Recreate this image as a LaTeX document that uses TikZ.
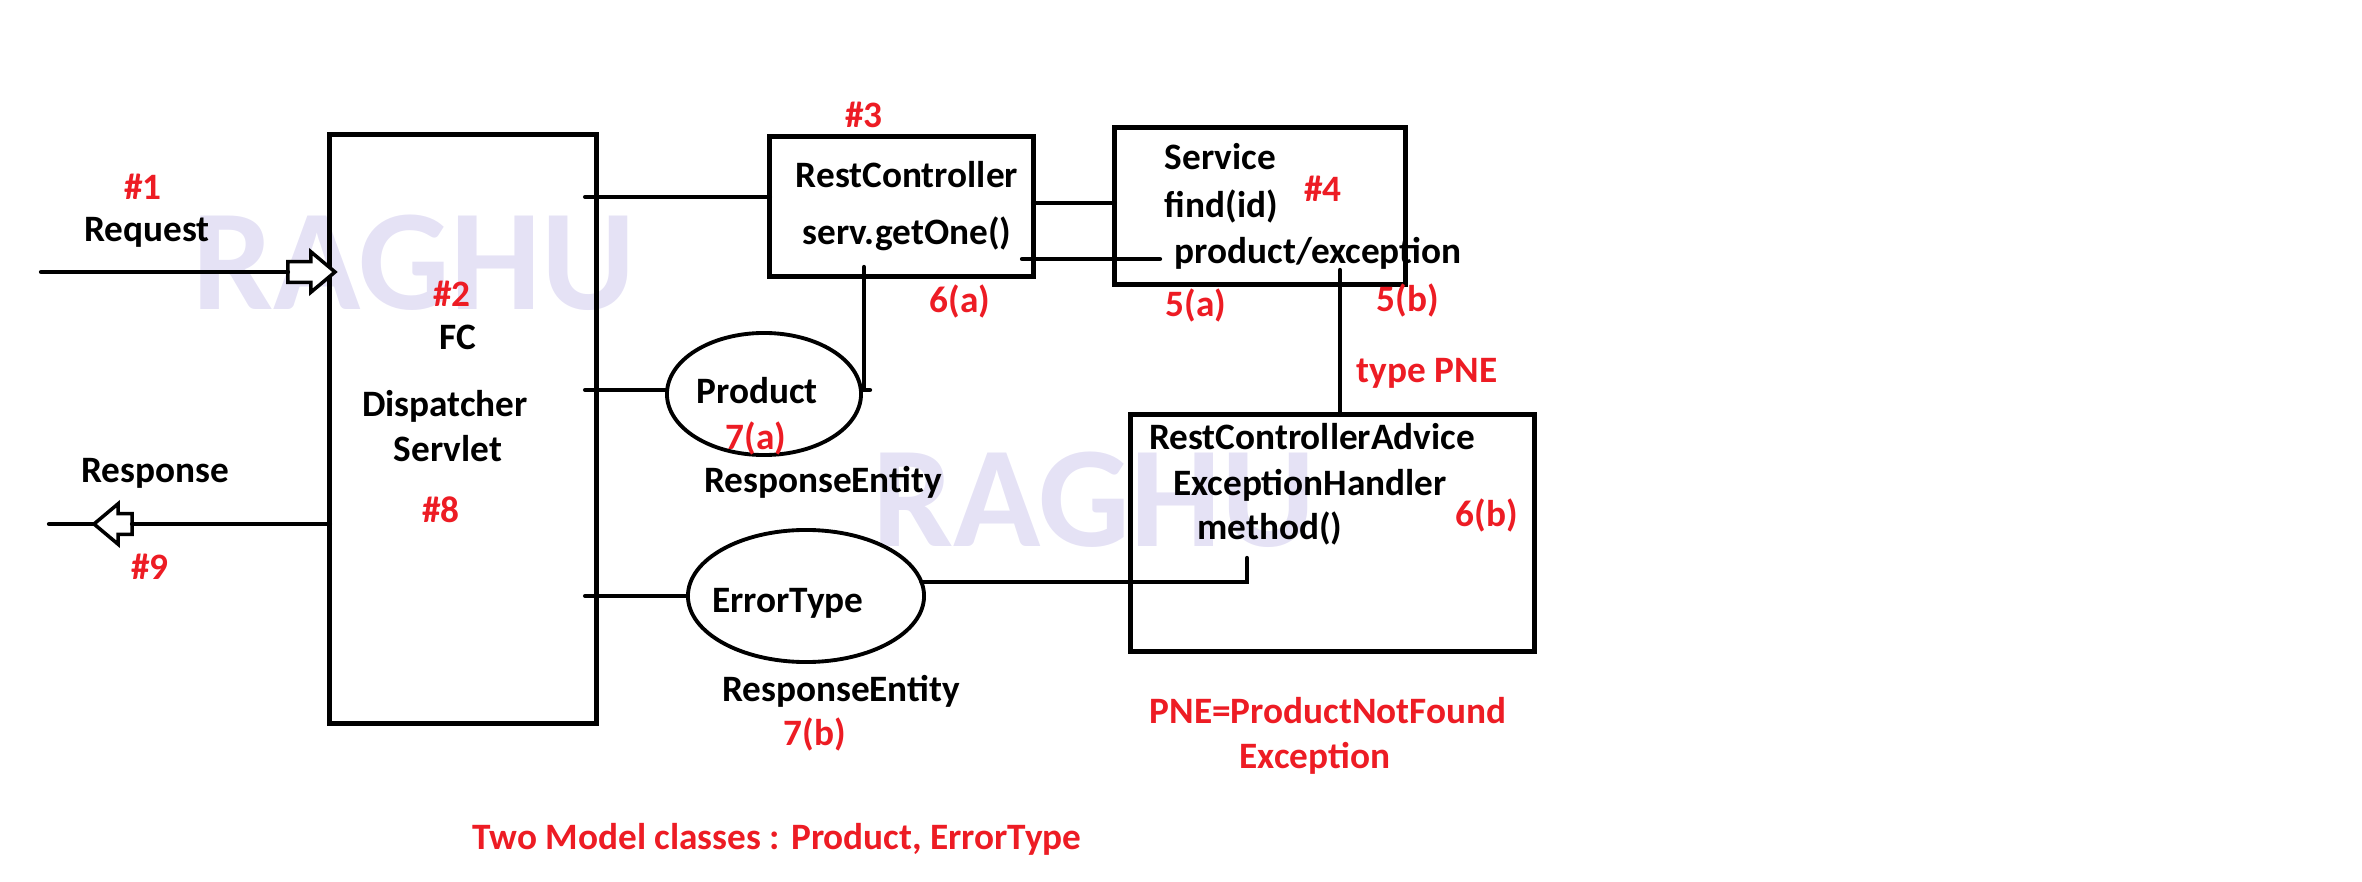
\documentclass[tikz,border=0pt]{standalone}
\usepackage{fontspec}
\setmainfont{Carlito}
\usepackage{xcolor}
\usepackage{tikz}
\usetikzlibrary{positioning,shapes.geometric,shapes.arrows}
\definecolor{pnered}{RGB}{237,28,36}
\definecolor{wmark}{RGB}{229,226,245}

\begin{document}
\begin{tikzpicture}[
    x=0.01cm, y=-0.01cm,
    box/.style={draw, line width=1.4pt, inner sep=0pt, outer sep=0pt},
    model/.style={draw, ellipse, line width=1.1pt, inner sep=0pt, outer sep=0pt},
    wire/.style={line width=1.2pt, line cap=round},
    blockarrow/.style={single arrow, draw, fill=white, line width=1pt, inner xsep=0pt, inner ysep=0.085cm, single arrow head extend=0.1cm, single arrow tip angle=80, outer sep=0pt},
    txt/.style={font=\bfseries\fontsize{10.6}{12}\selectfont, anchor=base, inner sep=0pt},
    tag/.style={txt, text=pnered},
    watermark/.style={font=\bfseries\fontsize{41}{41}\selectfont, text=wmark, anchor=base, inner sep=0pt}
  ]
    \useasboundingbox (0,0) rectangle (2362,882);

    % watermarks
    \node[watermark] (wm1) at (414,310) {RAGHU};
    \node[watermark] (wm2) at (1094,547) {RAGHU};

    % boxes and models
    \node[box, minimum width=2.66cm, minimum height=5.88cm] (fc) at (463,429) {};
    \node[box, minimum width=2.63cm, minimum height=1.39cm] (rc) at (901.5,206.5) {};
    \node[box, minimum width=2.90cm, minimum height=1.56cm] (svc) at (1260,206) {};
    \node[box, minimum width=4.03cm, minimum height=2.36cm] (adv) at (1332.5,533) {};
    \node[model, minimum width=1.94cm, minimum height=1.22cm] (prod) at (764,394) {};
    \node[model, minimum width=2.36cm, minimum height=1.32cm] (err) at (806,596) {};

    % request / response
    \coordinate (reqstart) at (41,272);
    \coordinate (resend) at (49,524);
    \node[blockarrow, minimum height=0.47cm, anchor=tip] (reqarrow) at (335,272) {};
    \node[blockarrow, minimum height=0.38cm, shape border rotate=180, anchor=tip] (resarrow) at (94,524) {};

    \coordinate (fcr) at ([xshift=-0.11cm]fc.east);
    \coordinate (getone) at (1022,259);
    \coordinate (retval) at (1160,259);
    \coordinate (exc) at (1340,270);
    \coordinate (rcdown) at (864,267);
    \coordinate (meth) at (1247,558);

    \draw[wire] (reqstart) -- (reqarrow.tail);
    \draw[wire] (fc.west |- 0,524) -- (resarrow.tail);
    \draw[wire] (resarrow.tip) -- (resend);
    \draw[wire] (fcr |- 0,197) -- (rc.west |- 0,197);
    \draw[wire] (rc.east |- 0,203) -- (svc.west |- 0,203);
    \draw[wire] (getone) -- (retval);
    \draw[wire] (exc) -- (exc |- adv.north);
    \draw[wire] (rcdown) -- (rcdown |- 0,390) -- ++(6,0);
    \draw[wire] (fcr |- 0,390) -- (prod.west |- 0,390);
    \draw[wire] (fcr |- err) -- (err.west);
    \draw[wire] (err.7) -| (meth);

    % texts
    \node[tag] (n1) at (143,200) {\#1};
    \node[txt] (req) at (147,242) {Request};
    \node[txt] (res) at (155,483) {Response};
    \node[tag] (n9) at (150,580) {\#9};
    \node[tag] (n2) at (452,307) {\#2};
    \node[txt] (fclbl) at (458,350) {FC};
    \node[txt] (disp) at (445,417) {Dispatcher};
    \node[txt] (serv) at (448,462) {Servlet};
    \node[tag] (n8) at (441,523) {\#8};

    \node[tag] (n3) at (864,128) {\#3};
    \node[txt] (rclbl) at (907,188) {RestController};
    \node[txt] (getlbl) at (907,245) {serv.getOne()};
    \node[tag] (n6a) at (960,313) {6(a)};

    \node[txt, anchor=base west] (svclbl) at (1164,170) {Service};
    \node[txt, anchor=base west] (find) at (1164,218) {find(id)};
    \node[tag] (n4) at (1323,202) {\#4};
    \node[txt, anchor=base west] (ret) at (1174,264) {product/exception};
    \node[tag] (n5a) at (1196,317) {5(a)};
    \node[tag] (n5b) at (1408,312) {5(b)};
    \node[tag] (pne) at (1427,383) {type PNE};

    \node[txt] (prodlbl) at (757,404) {Product};
    \node[tag] (n7a) at (756,449) {7(a)};
    \node[txt] (re1) at (823,493) {ResponseEntity};
    \node[txt] (errlbl) at (788,612) {ErrorType};
    \node[txt] (re2) at (841,702) {ResponseEntity};
    \node[tag] (n7b) at (815,745) {7(b)};

    \node[txt] (advlbl) at (1312,450) {RestControllerAdvice};
    \node[txt] (exh) at (1310,495) {ExceptionHandler};
    \node[txt] (methlbl) at (1270,540) {method()};
    \node[tag] (n6b) at (1487,527) {6(b)};

    \node[tag] (pnefull) at (1328,723) {PNE=ProductNotFound};
    \node[tag] (pneexc) at (1315,768) {Exception};
    \node[tag] (models) at (777,849) {Two Model classes : Product, ErrorType};
  \end{tikzpicture}
\end{document}
